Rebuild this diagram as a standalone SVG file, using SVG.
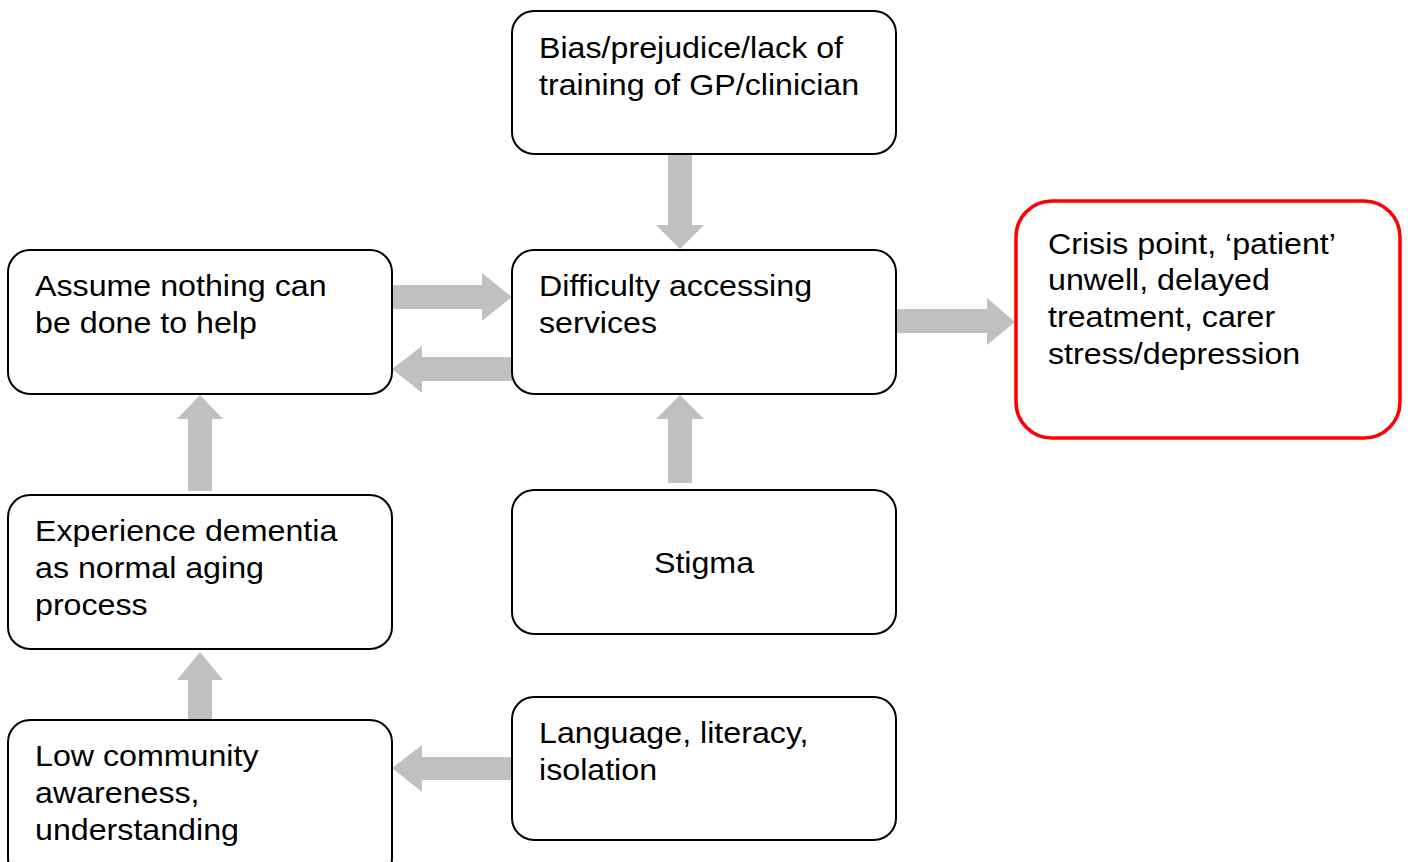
<svg xmlns="http://www.w3.org/2000/svg" width="1408" height="862" viewBox="0 0 1408 862">
<style>
.box{fill:#fff;stroke:#000;stroke-width:2}
.red{fill:#fff;stroke:#f00;stroke-width:3.5}
.t{font-family:"Liberation Sans",Arial,sans-serif;font-size:29px;fill:#000}
.arr{fill:#c0c0c0;stroke:none}
</style>
<rect width="1408" height="862" fill="#fff"/>
<g id="connectors">
<polygon class="arr" points="392,285 482,285 482,273 512,297 482,321 482,309 392,309"/>
<polygon class="arr" points="512,357 422,357 422,346 392,369 422,393 422,381 512,381"/>
<polygon class="arr" points="668,154 692,154 692,225 704,225 680,249 656,225 668,225"/>
<polygon class="arr" points="896,309 987,309 987,298 1015,322 987,345 987,333 896,333"/>
<polygon class="arr" points="188,491 212,491 212,419 223,419 200,395 177,419 188,419"/>
<polygon class="arr" points="668,483 692,483 692,419 704,419 680,395 656,419 668,419"/>
<polygon class="arr" points="188,720 212,720 212,680 223,680 200,652 177,680 188,680"/>
<polygon class="arr" points="512,757 422,757 422,745 392,768 422,792 422,780 512,780"/>
</g>
<g id="bias"><rect class="box" x="512" y="11" width="384" height="143" rx="22"/>
<g transform="translate(539,0) scale(1.11,1)"><text class="t" x="0" y="58">Bias/prejudice/lack of</text><text class="t" x="0" y="95">training of GP/clinician</text></g></g>
<g id="difficulty"><rect class="box" x="512" y="250" width="384" height="144" rx="22"/>
<g transform="translate(539,0) scale(1.11,1)"><text class="t" x="0" y="296">Difficulty accessing</text><text class="t" x="0" y="333">services</text></g></g>
<g id="assume"><rect class="box" x="8" y="250" width="384" height="144" rx="22"/>
<g transform="translate(35,0) scale(1.11,1)"><text class="t" x="0" y="296">Assume nothing can</text><text class="t" x="0" y="333">be done to help</text></g></g>
<g id="crisis"><rect class="red" x="1016" y="201" width="384" height="237" rx="36"/>
<g transform="translate(1048,0) scale(1.11,1)"><text class="t" x="0" y="254">Crisis point, ‘patient’</text><text class="t" x="0" y="290">unwell, delayed</text><text class="t" x="0" y="327">treatment, carer</text><text class="t" x="0" y="364">stress/depression</text></g></g>
<g id="experience"><rect class="box" x="8" y="495" width="384" height="154" rx="22"/>
<g transform="translate(35,0) scale(1.11,1)"><text class="t" x="0" y="541">Experience dementia</text><text class="t" x="0" y="578">as normal aging</text><text class="t" x="0" y="615">process</text></g></g>
<g id="stigma"><rect class="box" x="512" y="490" width="384" height="144" rx="22"/>
<g transform="translate(704,0) scale(1.11,1)"><text class="t" x="0" y="573" text-anchor="middle">Stigma</text></g></g>
<g id="low"><rect class="box" x="8" y="720" width="384" height="160" rx="22"/>
<g transform="translate(35,0) scale(1.11,1)"><text class="t" x="0" y="766">Low community</text><text class="t" x="0" y="803">awareness,</text><text class="t" x="0" y="840">understanding</text></g></g>
<g id="language"><rect class="box" x="512" y="697" width="384" height="143" rx="22"/>
<g transform="translate(539,0) scale(1.11,1)"><text class="t" x="0" y="743">Language, literacy,</text><text class="t" x="0" y="780">isolation</text></g></g>
</svg>
